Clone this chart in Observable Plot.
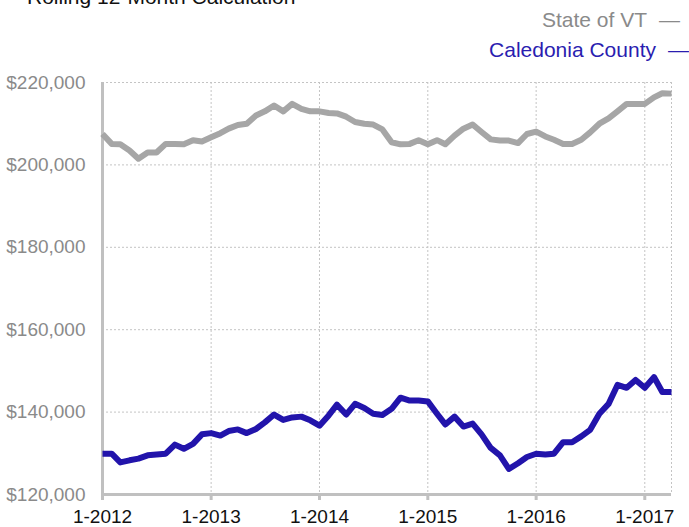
<!DOCTYPE html>
<html>
<head>
<meta charset="utf-8">
<script src="https://cdn.jsdelivr.net/npm/d3@7"></script>
<script src="https://cdn.jsdelivr.net/npm/@observablehq/plot@0.6"></script>
<style>
  html, body { margin: 0; padding: 0; background: #fff; }
  #wrap { position: relative; width: 689px; height: 527px; overflow: hidden; font-family: "Liberation Sans", Arial, Helvetica, sans-serif; }
  #title { position: absolute; left: 27px; top: -14px; font-size: 21px; line-height: 21px; color: #111; white-space: nowrap; }
  .leg { position: absolute; font-size: 21px; line-height: 21px; white-space: nowrap; }
  .leg .dash { display: inline-block; margin-left: 12px; }
  #leg1 { right: 9px; top: 9px; color: #8a8a8a; }
  #leg2 { right: 0px; top: 39px; color: #2a1db0; }
  #chart { position: absolute; left: 0; top: 0; }
</style>
</head>
<body>
<div id="wrap">
  <div id="chart"></div>
  <div id="title">Rolling 12-Month Calculation</div>
  <div class="leg" id="leg1"></div>
  <div class="leg" id="leg2"></div>
</div>
<script>
const seriesNames = ["State of VT", "Caledonia County"];
const seriesColors = ["#a6a6a6", "#2214ab"];

// Monthly rolling 12-month values, Jan 2012 – Apr 2017
const stateOfVT = [
  207500, 205100, 205000, 203500, 201500, 203000, 203000, 205100, 205100, 205000, 206000, 205700,
  206700, 207700, 208800, 209700, 210000, 212000, 213000, 214400, 213000, 214800, 213600, 213000,
  213000, 212600, 212500, 211700, 210400, 210000, 209800, 208600, 205500, 205000, 205100, 206000,
  205000, 206000, 205000, 207100, 208800, 209800, 208000, 206200, 205900, 205900, 205300, 207500,
  208100, 206900, 206100, 205100, 205100, 206100, 207900, 210000, 211300, 213000, 214800, 214800,
  214800, 216400, 217400, 217300
];
const caledoniaCounty = [
  129900, 129900, 127800, 128300, 128700, 129500, 129700, 129900, 132100, 131100, 132300, 134600,
  134900, 134300, 135400, 135800, 134900, 135900, 137500, 139400, 138100, 138700, 138900, 138000,
  136700, 139200, 141800, 139400, 142000, 141000, 139600, 139300, 140800, 143500, 142800, 142800,
  142600, 139600, 137000, 138900, 136500, 137200, 134600, 131300, 129500, 126200, 127600, 129100,
  129900, 129700, 129900, 132700, 132700, 134100, 135700, 139600, 142000, 146600, 145900, 147800,
  145900, 148500, 144900, 144900
];
const yTicks = [120000, 140000, 160000, 180000, 200000, 220000];
const xTickYears = [2012, 2013, 2014, 2015, 2016, 2017];

document.getElementById("leg1").innerHTML = seriesNames[0] + '<span class="dash">—</span>';
document.getElementById("leg2").innerHTML = seriesNames[1] + '<span class="dash">—</span>';

const start = new Date(Date.UTC(2012, 0, 1));
const end = new Date(Date.UTC(2017, 3, 1));
const months = d3.utcMonth.range(start, new Date(Date.UTC(2017, 4, 1)));
const xTicks = xTickYears.map(y => new Date(Date.UTC(y, 0, 1)));

const rows = [];
[stateOfVT, caledoniaCounty].forEach((vals, i) => {
  vals.forEach((v, j) => rows.push({series: seriesNames[i], date: months[j], value: v}));
});

const grid = "#c4c4c4";
const axisGray = "#c0c0c0";

const chart = Plot.plot({
  width: 689,
  height: 527,
  marginTop: 82,
  marginBottom: 33,
  marginLeft: 102,
  marginRight: 18,
  style: {fontFamily: "'Liberation Sans', Arial, Helvetica, sans-serif", fontSize: "19px", background: "transparent", overflow: "visible"},
  x: {type: "utc", domain: [start, end], label: null},
  y: {domain: [120000, 220000], label: null},
  color: {domain: seriesNames, range: seriesColors},
  marks: [
    Plot.ruleY(yTicks.slice(1), {stroke: grid, strokeDasharray: "2,2", strokeWidth: 1}),
    Plot.ruleX([...xTicks.slice(1), end], {stroke: grid, strokeDasharray: "2,2", strokeWidth: 1}),
    Plot.axisY({ticks: yTicks, tickFormat: d => "$" + d3.format(",")(d), tickSize: 0, tickPadding: 17, fill: "#8a8a8a", fontSize: 19, label: null}),
    Plot.axisX({ticks: xTicks, tickFormat: d => "1-" + d.getUTCFullYear(), tickSize: 6, tickPadding: 9, stroke: axisGray, strokeWidth: 3, fill: "#111", fontSize: 19, label: null}),
    Plot.ruleX([start], {stroke: axisGray, strokeWidth: 3}),
    Plot.ruleY([120000], {stroke: axisGray, strokeWidth: 3}),
    Plot.line(rows, {x: "date", y: "value", z: "series", stroke: "series", strokeWidth: 6, strokeLinejoin: "round", strokeLinecap: "butt"})
  ]
});
document.getElementById("chart").appendChild(chart);
</script>
</body>
</html>
